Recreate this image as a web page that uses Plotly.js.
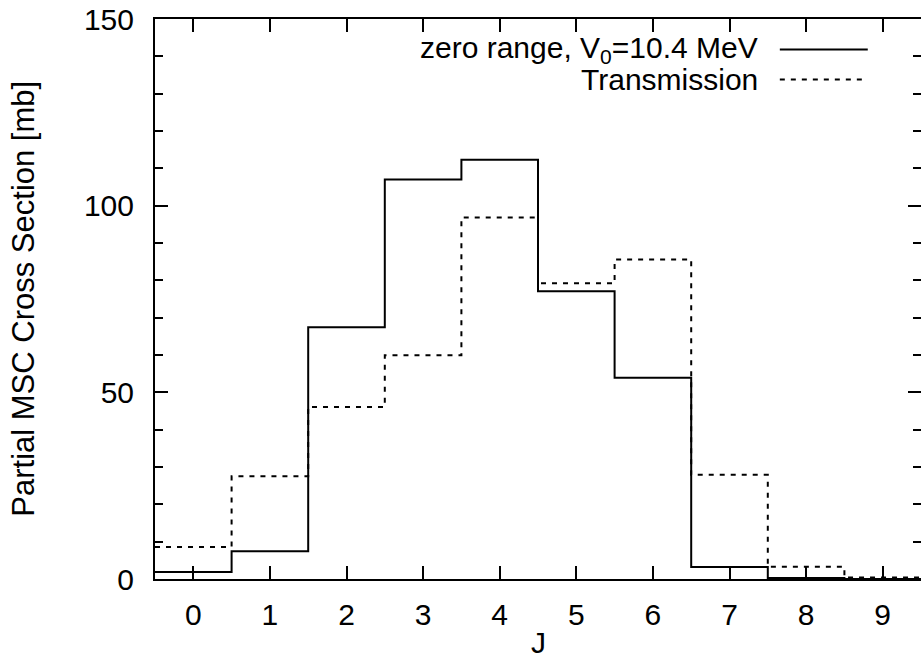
<!DOCTYPE html>
<html>
<head>
<meta charset="utf-8">
<script src="https://cdn.plot.ly/plotly-3.0.1.min.js"></script>
<style>html,body{margin:0;padding:0;background:#fff;}#chart{width:921px;height:660px;}</style>
</head>
<body>
<div id="chart"></div>
<script>
const J = [0, 1, 2, 3, 4, 5, 6, 7, 8, 9];
const zeroRange = [1.9, 7.4, 67.4, 107.0, 112.3, 77.1, 53.9, 3.2, 0.3, 0.0];
const transmission = [8.6, 27.5, 46.1, 59.9, 96.8, 79.2, 85.6, 27.9, 3.3, 0.4];
const xTickVals = [0, 1, 2, 3, 4, 5, 6, 7, 8, 9];
const yTickVals = [0, 50, 100, 150];
const legendNames = ["zero range, V<sub>0</sub>=10.4 MeV", "Transmission"];
const xTitle = "J";
const yTitle = "Partial MSC Cross Section [mb]";

// step edges derived from the bin centres
function edges(js) { const e = js.map(j => j - 0.5); e.push(js[js.length - 1] + 0.5); return e; }
function stepY(v) { const y = v.slice(); y.push(v[v.length - 1]); return y; }

const FONT = "Liberation Sans, Arial, sans-serif";
const FS = 30;
const traces = [
  {x: edges(J), y: stepY(zeroRange), mode: "lines", line: {shape: "hv", color: "#000", width: 2}, name: legendNames[0], showlegend: false},
  {x: edges(J), y: stepY(transmission), mode: "lines", line: {shape: "hv", color: "#000", width: 2, dash: "5px,6px"}, name: legendNames[1], showlegend: false}
];

const axisCommon = {
  showline: true, linecolor: "#000", linewidth: 2, mirror: "allticks",
  ticks: "inside", tickcolor: "#000", tickwidth: 2, ticklen: 13,
  showgrid: false, zeroline: false, automargin: false,
  tickfont: {family: FONT, size: FS, color: "#000"}
};

const layout = {
  width: 921, height: 660,
  margin: {l: 155, r: 0, t: 19, b: 81, pad: 0},
  paper_bgcolor: "#fff", plot_bgcolor: "#fff",
  font: {family: FONT, color: "#000"},
  showlegend: false,
  xaxis: Object.assign({}, axisCommon, {
    range: [-0.5, 9.5], tickvals: xTickVals, ticktext: xTickVals.map(String),
    ticklabelstandoff: 8
  }),
  yaxis: Object.assign({}, axisCommon, {
    range: [0, 150], tickvals: yTickVals, ticktext: yTickVals.map(String),
    ticklabelstandoff: 13,
    minor: {dtick: 10, ticks: "inside", ticklen: 8, tickwidth: 2, tickcolor: "#000", showgrid: false}
  }),
  annotations: [
    {xref: "paper", yref: "paper", x: 0.7896, y: 0.9455, xanchor: "right", yanchor: "middle", showarrow: false,
     text: legendNames[0], font: {family: FONT, size: FS, color: "#000"}},
    {xref: "paper", yref: "paper", x: 0.7896, y: 0.892, xanchor: "right", yanchor: "middle", showarrow: false,
     text: legendNames[1], font: {family: FONT, size: FS, color: "#000"}},
    {xref: "paper", yref: "paper", x: 0.5, y: -0.113, xanchor: "center", yanchor: "middle", showarrow: false,
     text: xTitle, font: {family: FONT, size: FS, color: "#000"}},
    {xref: "paper", yref: "paper", x: -0.172, y: 0.501, xanchor: "center", yanchor: "middle", showarrow: false, textangle: -90,
     text: yTitle, font: {family: FONT, size: 31, color: "#000"}}
  ],
  shapes: [
    {type: "line", xref: "paper", yref: "paper", x0: 0.8157, x1: 0.9305, y0: 0.9455, y1: 0.9455, line: {color: "#000", width: 2}},
    {type: "line", xref: "paper", yref: "paper", x0: 0.8157, x1: 0.9305, y0: 0.892, y1: 0.892, line: {color: "#000", width: 2, dash: "5px,6px"}}
  ]
};

Plotly.newPlot("chart", traces, layout, {staticPlot: true, displayModeBar: false});
</script>
</body>
</html>
